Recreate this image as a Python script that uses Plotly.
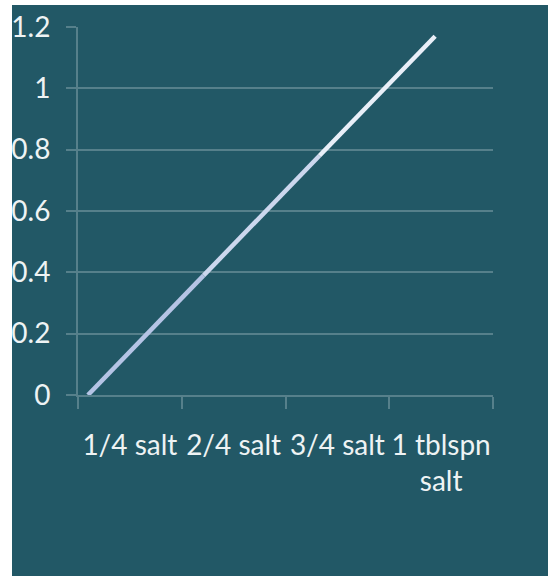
import plotly.graph_objects as go

# Salt amounts and measured values
categories = ["1/4 salt", "2/4 salt", "3/4 salt", "1 tblspn<br>salt"]
values = [0.0, 0.39, 0.78, 1.17]
y_ticks = [0, 0.2, 0.4, 0.6, 0.8, 1.0, 1.2]
y_tick_labels = ["0", "0.2", "0.4", "0.6", "0.8", "1", "1.2"]

TEAL = "#225866"
GRID = "#56808b"
TEXT = "#eef3f4"
FONT = "Lato, sans-serif"
segment_colors = ["#b5c4e5", "#ccd7ee", "#e9eff8"]

fig = go.Figure()

# invisible trace to anchor the category axis
fig.add_trace(go.Scatter(x=categories, y=[None] * len(categories), xaxis="x",
                         mode="lines", showlegend=False, hoverinfo="skip"))

# the series, drawn segment by segment to shade it lighter toward the top
idx = list(range(len(values)))
for i in range(len(values) - 1):
    fig.add_trace(go.Scatter(
        x=idx[i:i + 2], y=values[i:i + 2], xaxis="x2", mode="lines",
        line=dict(color=segment_colors[i], width=4.5),
        showlegend=False, hoverinfo="skip"))

fig.update_layout(
    width=548, height=576,
    margin=dict(l=78, r=55, t=27, b=181),
    paper_bgcolor=TEAL, plot_bgcolor=TEAL,
    font=dict(family=FONT, color=TEXT, size=28),
    xaxis=dict(
        type="category", range=[-0.5, 3.5], tickson="boundaries",
        showgrid=False, showline=True, linecolor=GRID, linewidth=2,
        ticks="outside", ticklen=12, tickwidth=2, tickcolor=GRID,
        tickfont=dict(size=28, family=FONT, color=TEXT),
        tickangle=0, automargin=False,
        ticklabelstandoff=24, zeroline=False,
    ),
    xaxis2=dict(
        overlaying="x", range=[-0.086, 3.5], visible=False,
        showgrid=False, zeroline=False,
    ),
    yaxis=dict(
        range=[0, 1.2], tickvals=y_ticks, ticktext=y_tick_labels,
        showgrid=True, gridcolor=GRID, gridwidth=2,
        showline=True, linecolor=GRID, linewidth=2,
        ticks="outside", ticklen=10, tickwidth=2, tickcolor=GRID,
        tickfont=dict(size=28, family=FONT, color=TEXT),
        automargin=False,
        ticklabelstandoff=10, zeroline=False,
    ),
    shapes=[
        # white frame strips along the left and top edges
        dict(type="rect", xref="paper", yref="paper",
             x0=-0.2, x1=(12 - 78) / 415, y0=-0.6, y1=1.1,
             fillcolor="white", line=dict(width=0), layer="above"),
        dict(type="rect", xref="paper", yref="paper",
             x0=-0.2, x1=1.2, y0=(395 - 5) / 368, y1=1.1,
             fillcolor="white", line=dict(width=0), layer="above"),
    ],
)

fig.write_html("out.html")
